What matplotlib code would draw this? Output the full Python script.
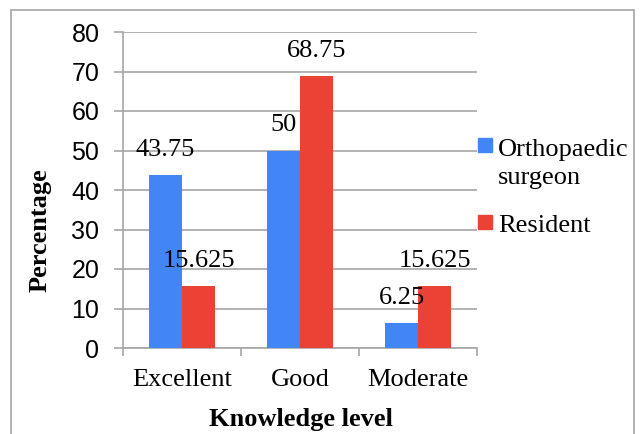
import numpy as np
import matplotlib.pyplot as plt
from matplotlib.patches import Rectangle

categories = ['Excellent', 'Good', 'Moderate']
surgeon = [43.75, 50, 6.25]
resident = [15.625, 68.75, 15.625]
series_names = ['Orthopaedic surgeon', 'Resident']
yticks = [0, 10, 20, 30, 40, 50, 60, 70, 80]

blue = '#4285F4'
red = '#EA4335'
grid_c = '#A6A6A6'
serif = ['Liberation Serif', 'DejaVu Serif']
sans = ['Liberation Sans', 'DejaVu Sans']
W, H = 641, 434


def fx(px):
    return px / W


def fy(py):
    # pixel row (from top) -> figure fraction
    return 1 - py / H


fig = plt.figure(figsize=(W/100, H/100), dpi=100)
ax = fig.add_axes([fx(123), fy(348), fx(354), 316/H])

# outer frame of the chart
fig.patches.append(Rectangle((fx(11), -0.02), fx(623), fy(10) + 0.02,
                             transform=fig.transFigure, fill=False,
                             edgecolor=grid_c, linewidth=1.2))

x = np.arange(len(categories))
w = 0.28
ax.bar(x - w/2, surgeon, w, color=blue, zorder=3)
ax.bar(x + w/2, resident, w, color=red, zorder=3)

for xs, vals in [(x - w/2, surgeon), (x + w/2, resident)]:
    for xi, v in zip(xs, vals):
        ax.text(xi, v + 6.5, '{:g}'.format(v), ha='center', va='center',
                fontsize=19, family=serif, zorder=4)

ax.set_xlim(-0.5, 2.5)
ax.set_ylim(0, 80)
ax.set_yticks(yticks)
ax.set_yticklabels([str(t) for t in yticks], family=sans, fontsize=18)
ax.set_xticks(x)
ax.set_xticklabels(categories, family=serif, fontsize=19)
ax.set_xticks([-0.5, 0.5, 1.5, 2.5], minor=True)
ax.tick_params(axis='x', which='major', length=0, pad=15)
ax.tick_params(axis='x', which='minor', length=6, color=grid_c, width=1.2)
ax.tick_params(axis='y', length=6.5, color=grid_c, width=1.2, pad=10.5)

ax.grid(axis='y', color=grid_c, linewidth=1.2, zorder=0)
for s in ['top', 'right']:
    ax.spines[s].set_visible(False)
for s in ['left', 'bottom']:
    ax.spines[s].set_color(grid_c)
    ax.spines[s].set_linewidth(1.2)

fig.text(fx(47), fy(230), 'Percentage', rotation=90, rotation_mode='anchor',
         ha='center', va='baseline', fontsize=19, fontweight='bold', family=serif)
fig.text(fx(301), fy(426), 'Knowledge level', ha='center', va='baseline',
         fontsize=19, fontweight='bold', family=serif)

# legend, drawn by hand so the square sits on the first text line
fig.patches.append(Rectangle((fx(478), fy(152)), fx(14), 14/H,
                             transform=fig.transFigure, color=blue))
fig.patches.append(Rectangle((fx(478), fy(229.5)), fx(14), 14/H,
                             transform=fig.transFigure, color=red))
name1 = series_names[0].split(' ')
fig.text(fx(498), fy(156), name1[0], va='baseline', fontsize=19, family=serif)
fig.text(fx(498), fy(184), name1[1], va='baseline', fontsize=19, family=serif)
fig.text(fx(498), fy(232), series_names[1], va='baseline', fontsize=19,
         family=serif)

fig.savefig('out.png', dpi=100)
